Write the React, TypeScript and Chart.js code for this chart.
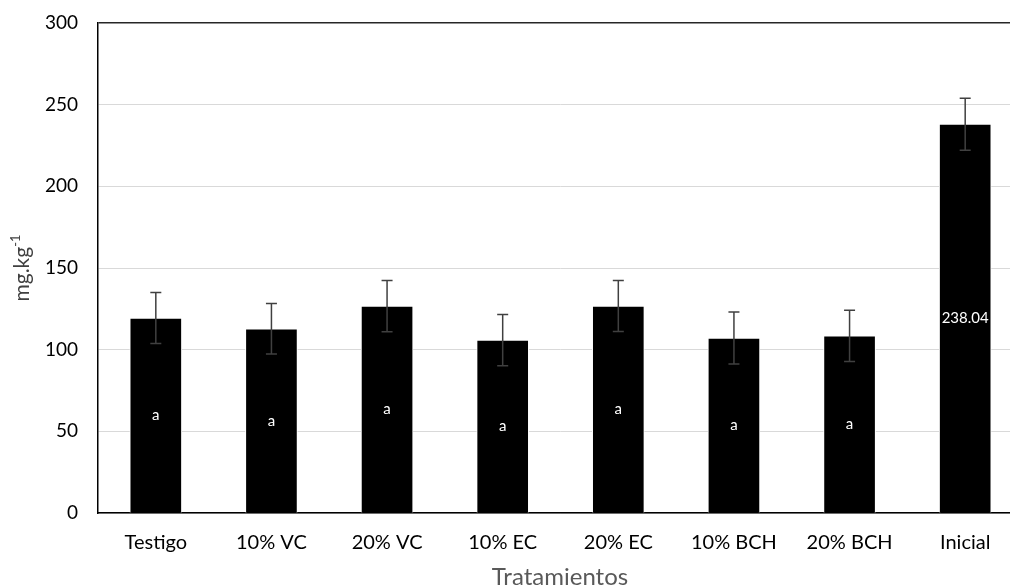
import React, { useEffect, useRef } from "react";
import { Chart, registerables } from "chart.js";

Chart.register(...registerables);

const categories = ["Testigo", "10% VC", "20% VC", "10% EC", "20% EC", "10% BCH", "20% BCH", "Inicial"];
const values = [119.4, 112.8, 126.7, 105.9, 126.7, 107.1, 108.4, 238.04];
const errors = [15.6, 15.5, 15.7, 15.7, 15.6, 15.9, 15.7, 15.9];
const barLabels = ["a", "a", "a", "a", "a", "a", "a", "238.04"];
const yTicks = [0, 50, 100, 150, 200, 250, 300];

const FONT = "Lato, 'Liberation Sans', sans-serif";

const overlayPlugin = {
  id: "overlay",
  afterDatasetsDraw(chart: any) {
    const ctx = chart.ctx;
    const meta = chart.getDatasetMeta(0);
    const y = chart.scales.y;
    ctx.save();
    meta.data.forEach((bar: any, i: number) => {
      const x = bar.x;
      const mid = y.getPixelForValue(values[i] / 2);
      ctx.fillStyle = "#ffffff";
      ctx.font = "15px " + FONT;
      ctx.textAlign = "center";
      ctx.textBaseline = "middle";
      ctx.fillText(barLabels[i], x, mid);
      const top = y.getPixelForValue(values[i] + errors[i]);
      const bot = y.getPixelForValue(values[i] - errors[i]);
      ctx.strokeStyle = "#404040";
      ctx.lineWidth = 1.5;
      ctx.beginPath();
      ctx.moveTo(x, top);
      ctx.lineTo(x, bot);
      ctx.moveTo(x - 5.5, top);
      ctx.lineTo(x + 5.5, top);
      ctx.moveTo(x - 5.5, bot);
      ctx.lineTo(x + 5.5, bot);
      ctx.stroke();
    });
    ctx.restore();
  },
  afterDraw(chart: any) {
    const ctx = chart.ctx;
    const area = chart.chartArea;
    ctx.save();
    ctx.fillStyle = "#595959";
    ctx.font = "24px " + FONT;
    ctx.textAlign = "center";
    ctx.textBaseline = "alphabetic";
    ctx.fillText("Tratamientos", 560, 585);
    const cy = (area.top + area.bottom) / 2;
    ctx.translate(29, cy);
    ctx.rotate(-Math.PI / 2);
    ctx.fillStyle = "#404040";
    const mainFont = "21px " + FONT;
    const supFont = "13px " + FONT;
    ctx.font = mainFont;
    const w1 = ctx.measureText("mg.kg").width;
    ctx.font = supFont;
    const w2 = ctx.measureText("-1").width;
    const total = w1 + w2;
    ctx.textAlign = "left";
    ctx.font = mainFont;
    ctx.fillText("mg.kg", -total / 2, 0);
    ctx.font = supFont;
    ctx.fillText("-1", -total / 2 + w1, -9);
    ctx.restore();
  },
};

export default function App() {
  const ref = useRef<HTMLCanvasElement>(null);
  useEffect(() => {
    if (!ref.current) return;
    const chart = new Chart(ref.current, {
      type: "bar",
      data: {
        labels: categories,
        datasets: [
          {
            data: values,
            backgroundColor: "#000000",
            borderColor: "#ffffff",
            borderWidth: 1,
            barThickness: 52,
          },
        ],
      },
      options: {
        responsive: false,
        animation: false,
        devicePixelRatio: 1,
        layout: { padding: { top: 23, left: 0, right: 0, bottom: 0 } },
        plugins: { legend: { display: false }, tooltip: { enabled: false } },
        scales: {
          x: {
            grid: { display: false, drawTicks: false },
            border: { display: true, color: "#000000", width: 1.5 },
            ticks: { color: "#000000", font: { family: FONT, size: 20 }, padding: 18, maxRotation: 0 },
            afterFit: (s: any) => {
              s.height = 74;
              s.paddingLeft = 0;
              s.paddingRight = 0;
            },
          },
          y: {
            min: 0,
            max: 300,
            afterBuildTicks: (s: any) => {
              s.ticks = yTicks.map((v) => ({ value: v }));
            },
            grid: {
              drawTicks: false,
              color: (c: any) => (c.tick && c.tick.value === 300 ? "#262626" : "#d9d9d9"),
              lineWidth: (c: any) => (c.tick && c.tick.value === 300 ? 1.5 : 1),
            },
            border: { display: true, color: "#000000", width: 1.5 },
            ticks: { color: "#000000", font: { family: FONT, size: 19 }, padding: 20 },
            afterFit: (s: any) => {
              s.width = 98;
              s.paddingTop = 0;
              s.paddingBottom = 0;
            },
          },
        },
      },
      plugins: [overlayPlugin],
    });
    return () => chart.destroy();
  }, []);
  return (
    <div style={{ position: "fixed", left: 0, top: 0, width: 1010, height: 587, overflow: "hidden", background: "#fff" }}>
      <canvas ref={ref} width={1023} height={587} />
    </div>
  );
}
